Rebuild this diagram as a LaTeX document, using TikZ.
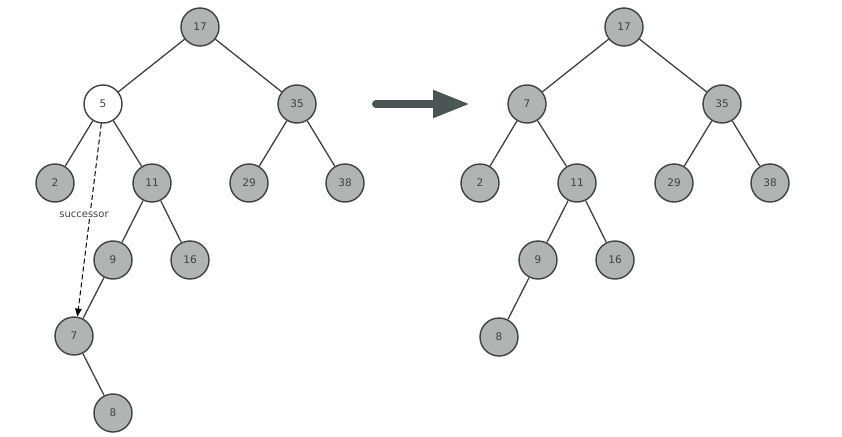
\documentclass[tikz,border=0pt]{standalone}
\usepackage{fontspec}
\setmainfont{DejaVu Sans}
\usetikzlibrary{arrows.meta,positioning}
\definecolor{nodegray}{HTML}{B0B5B3}
\definecolor{edgegray}{HTML}{404040}
\definecolor{slate}{HTML}{4B5553}
\tikzset{
  key/.style={circle,draw=edgegray,line width=1.4pt,fill=nodegray,minimum size=38pt,inner sep=0pt,text=edgegray,font=\fontsize{10.5}{12}\selectfont},
  keyfree/.style={key,fill=white},
  edge/.style={draw=edgegray,line width=1.3pt}
}

\begin{document}
\begin{tikzpicture}[x=1pt,y=-1pt]
    \useasboundingbox (0,0) rectangle (842,436);
    % tree before deletion
    \node[key] (l17) at (200,27) {17};
    \node[keyfree] (l5) at (103,104) {5};
    \node[key] (l35) at (297,104) {35};
    \node[key] (l2) at (55,183) {2};
    \node[key] (l11) at (152,183) {11};
    \node[key] (l29) at (249,183) {29};
    \node[key] (l38) at (345,183) {38};
    \node[key] (l9) at (113,260) {9};
    \node[key] (l16) at (190,260) {16};
    \node[key] (l7) at (74,336) {7};
    \node[key] (l8) at (113,413) {8};
    \foreach \a/\b in {l17/l5,l17/l35,l5/l2,l5/l11,l35/l29,l35/l38,l11/l9,l11/l16,l9/l7,l7/l8}
      \path[edge] (\a) -- (\b);
    \draw[black,dash pattern=on 5pt off 3pt,line width=1pt,-{Triangle[length=8pt,width=6.5pt]}] (l5.-95) -- (l7.80);
    \node[fill=white,inner sep=1.5pt,text=edgegray,font=\fontsize{10}{12}\selectfont] (succ) at (84,215) {successor};
    % big arrow
    \coordinate (from) at (376,104);
    \coordinate (to) at (470,104);
    \draw[slate,line width=8pt,line cap=round,-{Triangle[length=37pt,width=26pt]}] (from) -- (to);
    % tree after deletion
    \node[key] (r17) at (624,27) {17};
    \node[key] (r7) at (527,104) {7};
    \node[key] (r35) at (722,104) {35};
    \node[key] (r2) at (480,183) {2};
    \node[key] (r11) at (577,183) {11};
    \node[key] (r29) at (674,183) {29};
    \node[key] (r38) at (770,183) {38};
    \node[key] (r9) at (538,260) {9};
    \node[key] (r16) at (615,260) {16};
    \node[key] (r8) at (499,337) {8};
    \foreach \a/\b in {r17/r7,r17/r35,r7/r2,r7/r11,r35/r29,r35/r38,r11/r9,r11/r16,r9/r8}
      \path[edge] (\a) -- (\b);
\end{tikzpicture}
\end{document}
